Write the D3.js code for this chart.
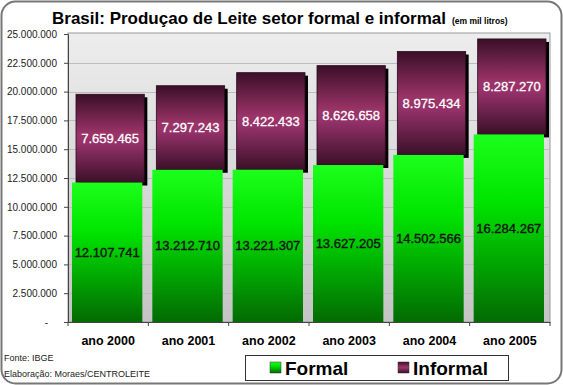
<!DOCTYPE html>
<html>
<head>
<meta charset="utf-8">
<script src="https://cdn.jsdelivr.net/npm/d3@7"></script>
<style>
  body { margin: 0; background: #fff; }
  svg { display: block; font-family: Arial, "Liberation Sans", sans-serif; }
</style>
</head>
<body>
<div id="chart"></div>
<script>
// data (mil litros)
const years = ["ano 2000", "ano 2001", "ano 2002", "ano 2003", "ano 2004", "ano 2005"];
const formal = [12107741, 13212710, 13221307, 13627205, 14502566, 16284267];
const informal = [7659465, 7297243, 8422433, 8626658, 8975434, 8287270];
const yTicks = [0, 2500000, 5000000, 7500000, 10000000, 12500000, 15000000, 17500000, 20000000, 22500000, 25000000];

const W = 563, H = 385;
const plot = { left: 68, right: 550, top: 34, bottom: 322 };

const fmt = function(v) { return d3.format(",")(v).replace(/,/g, "."); };

const svg = d3.select("#chart")
    .append("svg")
    .attr("width", W)
    .attr("height", H);

const defs = svg.append("defs");

// gradients
const bg = defs.append("linearGradient").attr("id", "bg").attr("x1", 0).attr("y1", 0).attr("x2", 0).attr("y2", 1);
bg.append("stop").attr("offset", "0%").attr("stop-color", "#ededed");
bg.append("stop").attr("offset", "100%").attr("stop-color", "#c4c4c4");

const gGreen = defs.append("linearGradient").attr("id", "green").attr("x1", 0).attr("y1", 0).attr("x2", 0).attr("y2", 1);
gGreen.append("stop").attr("offset", "0%").attr("stop-color", "#1cff1c");
gGreen.append("stop").attr("offset", "35%").attr("stop-color", "#00e600");
gGreen.append("stop").attr("offset", "100%").attr("stop-color", "#036a03");

const gMaroon = defs.append("linearGradient").attr("id", "maroon").attr("x1", 0).attr("y1", 0).attr("x2", 0).attr("y2", 1);
gMaroon.append("stop").attr("offset", "0%").attr("stop-color", "#3a0f28");
gMaroon.append("stop").attr("offset", "45%").attr("stop-color", "#9c3468");
gMaroon.append("stop").attr("offset", "55%").attr("stop-color", "#96326a");
gMaroon.append("stop").attr("offset", "100%").attr("stop-color", "#3a1028");

// outer rounded frame
svg.append("rect")
    .attr("x", 1.5).attr("y", 1.5)
    .attr("width", W - 3).attr("height", H - 3)
    .attr("rx", 14)
    .attr("fill", "#fff")
    .attr("stroke", "#777")
    .attr("stroke-width", 2);

// title
const title = svg.append("text")
    .attr("x", 52)
    .attr("y", 24)
    .attr("font-size", 17)
    .attr("font-weight", "bold")
    .attr("fill", "#000")
    .text("Brasil: Produçao de Leite setor formal e informal");
title.append("tspan")
    .attr("dx", 6)
    .attr("font-size", 8.5)
    .text("(em mil litros)");

// scales
const x = d3.scaleBand()
    .domain(years)
    .range([plot.left, plot.right])
    .padding(0);

const y = d3.scaleLinear()
    .domain([0, 25000000])
    .range([plot.bottom, plot.top]);

// plot background
svg.append("rect")
    .attr("x", plot.left)
    .attr("y", plot.top - 1)
    .attr("width", plot.right - plot.left)
    .attr("height", plot.bottom - plot.top + 1)
    .attr("fill", "url(#bg)")
    .attr("stroke", "#999")
    .attr("stroke-width", 1);

// gridlines
svg.append("g")
    .selectAll("line")
    .data(yTicks.slice(1, -1))
    .enter()
    .append("line")
    .attr("x1", plot.left)
    .attr("x2", plot.right)
    .attr("y1", function(d) { return Math.round(y(d)) + 0.5; })
    .attr("y2", function(d) { return Math.round(y(d)) + 0.5; })
    .attr("stroke", "#bdbdbd")
    .attr("stroke-width", 1);

const bw = x.bandwidth();

// informal shadows
svg.append("g")
    .selectAll("rect")
    .data(informal)
    .enter()
    .append("rect")
    .attr("x", function(d, i) { return x(years[i]) + 8 + 3; })
    .attr("y", function(d, i) { return y(formal[i] + d) + 3; })
    .attr("width", bw - 12)
    .attr("height", function(d, i) { return y(formal[i]) - y(formal[i] + d); })
    .attr("fill", "#000");

// informal bars
svg.append("g")
    .selectAll("rect")
    .data(informal)
    .enter()
    .append("rect")
    .attr("x", function(d, i) { return x(years[i]) + 8; })
    .attr("y", function(d, i) { return y(formal[i] + d); })
    .attr("width", bw - 12)
    .attr("height", function(d, i) { return y(formal[i]) - y(formal[i] + d); })
    .attr("fill", "url(#maroon)")
    .attr("stroke", "#2a0a1c")
    .attr("stroke-width", 0.8);

// formal bars
svg.append("g")
    .selectAll("rect")
    .data(formal)
    .enter()
    .append("rect")
    .attr("x", function(d, i) { return x(years[i]) + 4; })
    .attr("y", function(d) { return y(d); })
    .attr("width", bw - 10)
    .attr("height", function(d) { return y(0) - y(d); })
    .attr("fill", "url(#green)");

// value labels
svg.append("g")
    .selectAll("text")
    .data(formal)
    .enter()
    .append("text")
    .attr("x", function(d, i) { return x(years[i]) + 4 + (bw - 10) / 2; })
    .attr("y", function(d) { return (y(d) + y(0)) / 2; })
    .attr("dy", "0.35em")
    .attr("text-anchor", "middle")
    .attr("font-size", 13)
    .attr("fill", "#111")
    .attr("stroke", "#111")
    .attr("stroke-width", 0.35)
    .text(function(d) { return fmt(d); });

svg.append("g")
    .selectAll("text")
    .data(informal)
    .enter()
    .append("text")
    .attr("x", function(d, i) { return x(years[i]) + 8 + (bw - 12) / 2; })
    .attr("y", function(d, i) { return (y(formal[i]) + y(formal[i] + d)) / 2; })
    .attr("dy", "0.35em")
    .attr("text-anchor", "middle")
    .attr("font-size", 13)
    .attr("fill", "#fff")
    .attr("stroke", "#fff")
    .attr("stroke-width", 0.3)
    .text(function(d) { return fmt(d); });

// y axis
const yAxis = svg.append("g")
    .attr("transform", "translate(" + plot.left + ",0)")
    .call(d3.axisLeft(y)
        .tickValues(yTicks)
        .tickSize(4)
        .tickPadding(7)
        .tickFormat(function(d) { return d === 0 ? "-" : fmt(d); }));
yAxis.select(".domain").attr("stroke", "#444");
yAxis.selectAll(".tick line").attr("stroke", "#444");
yAxis.selectAll(".tick text")
    .attr("font-size", 10)
    .attr("font-family", "Arial, 'Liberation Sans', sans-serif")
    .attr("fill", "#222");
yAxis.selectAll(".tick text")
    .filter(function(d) { return d === 0; })
    .attr("dx", -9);

// x axis
const xAxis = svg.append("g")
    .attr("transform", "translate(0," + plot.bottom + ")")
    .call(d3.axisBottom(x).tickSize(0).tickPadding(14));
xAxis.select(".domain").attr("stroke", "#444");
xAxis.selectAll(".tick text")
    .attr("font-size", 12.5)
    .attr("font-weight", "bold")
    .attr("font-family", "Arial, 'Liberation Sans', sans-serif")
    .attr("fill", "#000");

// category separators on x axis
xAxis.append("g")
    .selectAll("line")
    .data(years.concat(["end"]))
    .enter()
    .append("line")
    .attr("x1", function(d, i) { return plot.left + i * bw; })
    .attr("x2", function(d, i) { return plot.left + i * bw; })
    .attr("y1", 0)
    .attr("y2", 4)
    .attr("stroke", "#444");

// source notes
svg.append("text")
    .attr("x", 4).attr("y", 361)
    .attr("font-size", 9)
    .attr("fill", "#222")
    .text("Fonte: IBGE");
svg.append("text")
    .attr("x", 4).attr("y", 377)
    .attr("font-size", 9)
    .attr("fill", "#222")
    .text("Elaboração: Moraes/CENTROLEITE");

// legend
const legend = svg.append("g");
legend.append("rect")
    .attr("x", 245.5).attr("y", 355.5)
    .attr("width", 263).attr("height", 25)
    .attr("fill", "#fff")
    .attr("stroke", "#333");

const legendItems = [
    { name: "Formal", fill: "url(#green)", x: 270 },
    { name: "Informal", fill: "url(#maroon)", x: 398 }
];
const li = legend.selectAll(".item")
    .data(legendItems)
    .enter()
    .append("g")
    .attr("class", "item");
li.append("rect")
    .attr("x", function(d) { return d.x; })
    .attr("y", 362)
    .attr("width", 11)
    .attr("height", 11)
    .attr("fill", function(d) { return d.fill; })
    .attr("stroke", "#333")
    .attr("stroke-width", 0.5);
li.append("text")
    .attr("x", function(d) { return d.x + 15; })
    .attr("y", 375)
    .attr("font-size", 19)
    .attr("font-weight", "bold")
    .attr("fill", "#000")
    .text(function(d) { return d.name; });
</script>
</body>
</html>
